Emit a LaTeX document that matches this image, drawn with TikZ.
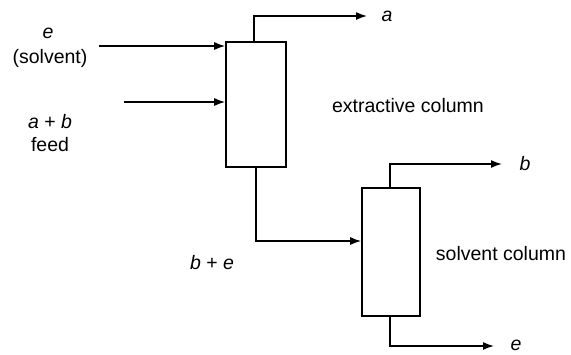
\documentclass[tikz,border=0pt]{standalone}
\usepackage{fontspec}
\setmainfont{Liberation Sans}
\usetikzlibrary{arrows.meta}
\begin{document}
\begin{tikzpicture}[x=1pt,y=-1pt,
  col/.style={draw,line width=1.6pt,inner sep=0pt},
  flow/.style={line width=1.5pt,-{Latex[length=11pt,width=8pt]}},
  lbl/.style={font=\fontsize{19.5}{22}\selectfont,inner sep=0pt,align=center}]
\useasboundingbox (0,0) rectangle (571,354);
% columns
\node[col,minimum width=60pt,minimum height=125pt] (c1) at (256,104.5) {};
\node[col,minimum width=58pt,minimum height=128pt] (c2) at (391,252) {};
% inlet points
\coordinate (s1) at (99,46);
\coordinate (s2) at (124,102);
\draw[flow] (s1) -- (s1 -| c1.west);
\draw[flow] (s2) -- (s2 -| c1.west);
% top outlet column 1
\coordinate (t1) at (254,16);
\coordinate (a) at (367,16);
\draw[flow] (t1 |- c1.north) -- (t1) -- (a);
% bottom outlet column 1 to column 2
\coordinate (k1) at (256,241);
\draw[flow] (k1 |- c1.south) -- (k1) -- (k1 -| c2.west);
% column 2 outlets
\coordinate (t2) at (390,164);
\coordinate (bb) at (502,164);
\draw[flow] (t2 |- c2.north) -- (t2) -- (bb);
\coordinate (t3) at (390,346);
\coordinate (ee) at (494,346);
\draw[flow] (t3 |- c2.south) -- (t3) -- (ee);
% labels
\node[lbl] (le) at (48,33) {\itshape e};
\node[lbl] (lsol) at (50,58) {(solvent)};
\node[lbl] (lab) at (50,122) {\itshape a\/ \upshape+ \itshape b};
\node[lbl] (lfeed) at (50,145) {feed};
\node[lbl] (la) at (387,16) {\itshape a};
\node[lbl] (lx) at (408,106) {extractive column};
\node[lbl] (lb) at (525,164) {\itshape b};
\node[lbl] (lbe) at (212,263) {\itshape b\/ \upshape+ \itshape e};
\node[lbl] (ls) at (501,254) {solvent column};
\node[lbl] (lee) at (516,345) {\itshape e};
\end{tikzpicture}
\end{document}
